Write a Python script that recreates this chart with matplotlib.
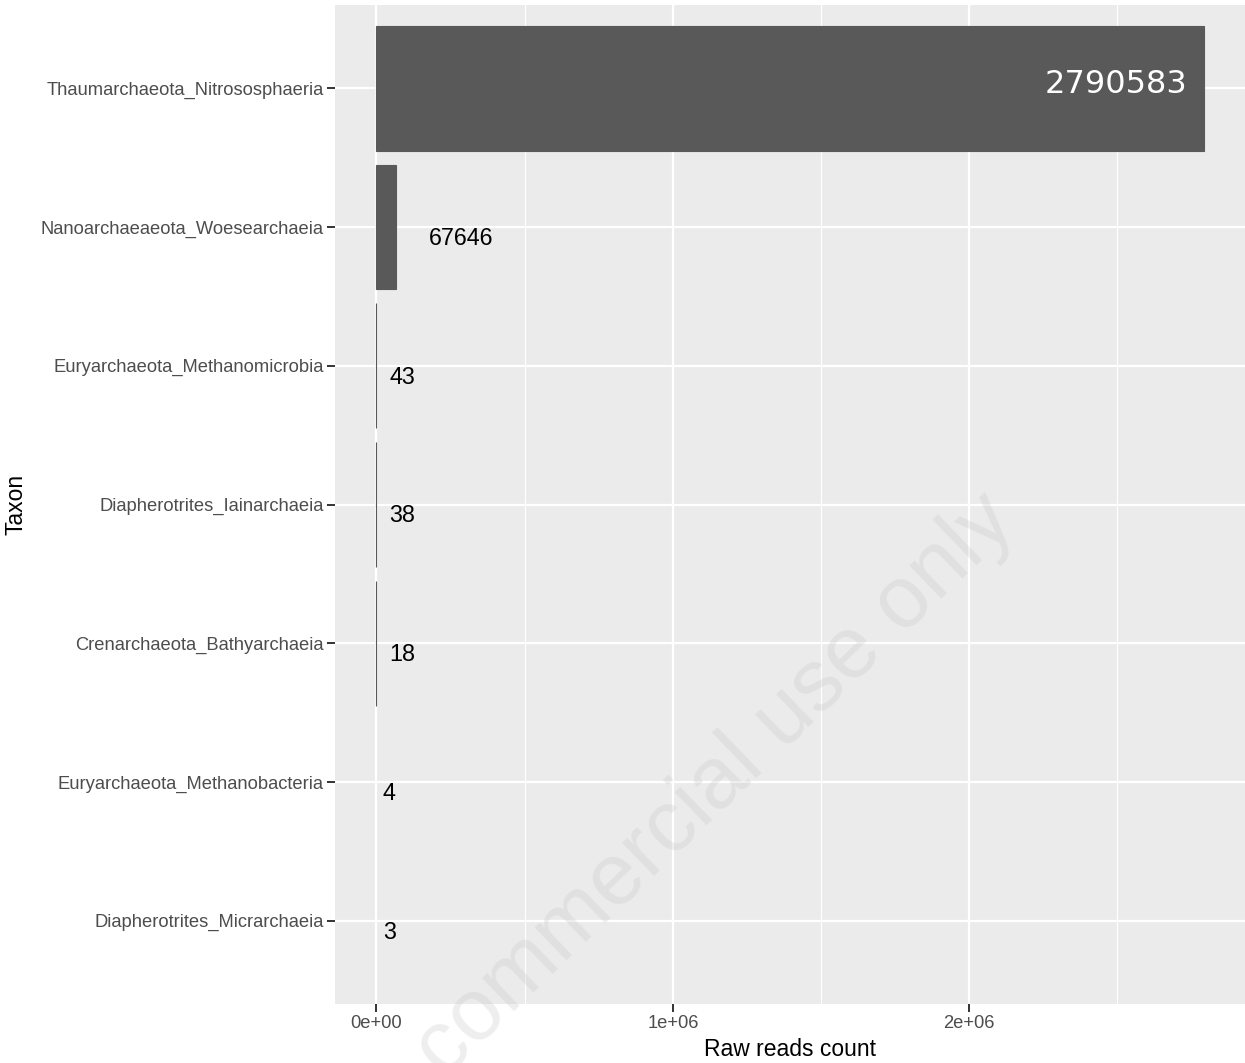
import matplotlib
matplotlib.use("Agg")
import matplotlib.pyplot as plt
from matplotlib.ticker import MultipleLocator, FuncFormatter

OUT_PATH = "out.png"

# data (top to bottom)
taxa = [
    "Thaumarchaeota_Nitrososphaeria",
    "Nanoarchaeaeota_Woesearchaeia",
    "Euryarchaeota_Methanomicrobia",
    "Diapherotrites_Iainarchaeia",
    "Crenarchaeota_Bathyarchaeia",
    "Euryarchaeota_Methanobacteria",
    "Diapherotrites_Micrarchaeia",
]
counts = [2790583, 67646, 43, 38, 18, 4, 3]

BAR_COLOR = "#595959"
PANEL_BG = "#EBEBEB"
TICK_GREY = "#4D4D4D"

plt.rcParams["font.family"] = ["Liberation Sans", "DejaVu Sans"]


def sci_label(x, pos):
    return f"{x:.0e}" if x != 0 else "0e+00"


def main():
    fig = plt.figure(figsize=(12.45, 10.63), dpi=100)
    ax = fig.add_axes([335 / 1245, 1 - 1004 / 1063, 910 / 1245, 999 / 1063])
    ax.set_facecolor(PANEL_BG)

    ypos = list(range(len(taxa)))[::-1]
    # the very small bars show up as hairlines in the reference
    edge_w = [0.8 if v >= 10 else 0 for v in counts]
    ax.barh(ypos, counts, height=0.9, color=BAR_COLOR,
            edgecolor=BAR_COLOR, linewidth=edge_w, zorder=2)

    vmax = max(counts)
    pad = 0.05 * vmax
    ax.set_xlim(-pad, vmax + pad)
    ax.set_ylim(-0.6, len(taxa) - 1 + 0.6)

    ax.set_yticks(ypos)
    ax.set_yticklabels(taxa)
    ax.xaxis.set_major_locator(MultipleLocator(1e6))
    ax.xaxis.set_minor_locator(MultipleLocator(5e5))
    ax.xaxis.set_major_formatter(FuncFormatter(sci_label))

    ax.grid(which="major", color="white", linewidth=1.6, zorder=0)
    ax.grid(which="minor", axis="x", color="white", linewidth=0.8, zorder=0)
    ax.set_axisbelow(True)
    for s in ax.spines.values():
        s.set_visible(False)

    ax.tick_params(axis="both", which="major", length=6, width=1.4,
                   color="#333333", labelcolor=TICK_GREY, labelsize=13.2, pad=2)
    ax.tick_params(axis="x", which="minor", length=0)

    ax.set_xlabel("Raw reads count", fontsize=16.5, labelpad=4)
    ax.set_ylabel("Taxon", fontsize=16.5, labelpad=10)

    # value labels
    fig.canvas.draw()
    renderer = fig.canvas.get_renderer()
    for y, v in zip(ypos, counts):
        if v == vmax:
            ax.annotate(str(v), xy=(v, y), xytext=(-16, 4),
                        textcoords="offset pixels", ha="right", va="center",
                        color="white", fontsize=23,
                        family=["DejaVu Sans"], zorder=3)
        else:
            t = ax.text(0, 0, str(v), fontsize=16.8)
            w = t.get_window_extent(renderer).width
            t.remove()
            ax.annotate(str(v), xy=(v, y), xytext=(w / 2, 0),
                        textcoords="offset pixels", ha="left", va="top",
                        color="black", fontsize=16.8, zorder=3)

    # watermark
    fig.text(647 / 1245, 1 - 852 / 1063, "Non-commercial use only",
             rotation=44, rotation_mode="anchor", ha="center", va="center",
             fontsize=63, color="#C8C8C8", alpha=0.3, zorder=10)

    fig.savefig(OUT_PATH, dpi=100)


if __name__ == "__main__":
    main()
